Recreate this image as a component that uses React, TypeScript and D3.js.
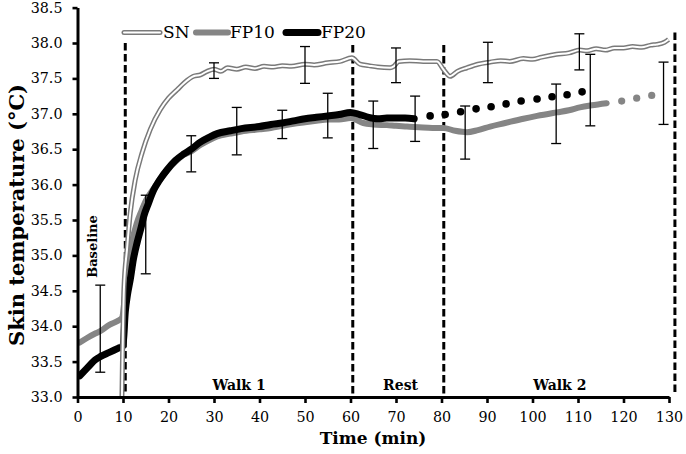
import { useEffect, useRef } from "react";
import * as d3 from "d3";

// time (min) and skin temperature (°C)
const snTime = [9.7, 10.2, 10.9, 11.6, 12.7, 14.2, 16.0, 18.2, 20, 21.9, 23.5, 25.5, 27, 28.5, 30, 31.5, 33, 35, 37, 39, 41, 43, 45, 47, 50, 52, 55, 57.7, 60.3, 62.1, 64, 66, 68.7, 69.5, 70.6, 73, 76, 79, 80.5, 81.9, 83.5, 85.6, 88, 90.7, 93, 95, 98, 100, 102, 105.3, 108, 110.4, 112, 114, 116, 118, 120, 122, 124, 126, 127.3, 129, 129.9];
const snTemp = [32.7, 34.52, 35.1, 35.6, 36.07, 36.45, 36.78, 37.06, 37.22, 37.34, 37.44, 37.53, 37.55, 37.6, 37.63, 37.6, 37.65, 37.63, 37.66, 37.64, 37.67, 37.66, 37.68, 37.67, 37.7, 37.69, 37.72, 37.74, 37.79, 37.7, 37.68, 37.66, 37.65, 37.67, 37.74, 37.75, 37.74, 37.74, 37.62, 37.53, 37.6, 37.65, 37.7, 37.73, 37.75, 37.74, 37.78, 37.77, 37.8, 37.84, 37.86, 37.9, 37.89, 37.92, 37.9, 37.93, 37.93, 37.95, 37.94, 37.97, 37.98, 38.01, 38.05];

const fp10Time = [0.5, 2, 4, 5, 7, 9, 9.8, 10.3, 11, 12, 13, 14, 15, 16.8, 18, 19.7, 21.5, 23.3, 25, 27, 29, 30.7, 33.6, 36, 40, 42.5, 45, 47.5, 50, 52.5, 55, 57.5, 60, 62.8, 65, 68, 70, 72.4, 75, 78, 80.4, 83, 85.6, 88, 90.7, 94, 98, 101, 105.3, 108, 110.4, 113, 116.3];
const fp10Temp = [33.77, 33.83, 33.9, 33.93, 34.02, 34.08, 34.12, 34.35, 34.8, 35.2, 35.45, 35.62, 35.77, 35.95, 36.06, 36.2, 36.32, 36.42, 36.47, 36.56, 36.63, 36.68, 36.72, 36.75, 36.78, 36.8, 36.83, 36.86, 36.88, 36.9, 36.92, 36.92, 36.94, 36.87, 36.85, 36.84, 36.83, 36.82, 36.81, 36.8, 36.8, 36.76, 36.74, 36.77, 36.82, 36.87, 36.93, 36.97, 37.02, 37.05, 37.09, 37.12, 37.15];
const fp10DotTime = [119.6, 122.9, 126.2];
const fp10DotTemp = [37.18, 37.22, 37.26];

const fp20Time = [0.5, 2, 4, 5, 7, 9, 10, 10.5, 11, 11.6, 12.3, 13.1, 14, 14.6, 15.5, 16.8, 18, 19.7, 21.5, 23.3, 25, 27, 29, 30.7, 33.6, 36, 40, 42.5, 45, 47.5, 50, 52.5, 55, 57.5, 60, 62, 64, 66, 68, 70, 72, 74];
const fp20Temp = [33.3, 33.4, 33.53, 33.57, 33.63, 33.69, 33.72, 34.2, 34.45, 34.66, 34.95, 35.18, 35.4, 35.56, 35.72, 35.93, 36.06, 36.21, 36.34, 36.43, 36.5, 36.6, 36.67, 36.72, 36.76, 36.79, 36.82, 36.85, 36.87, 36.9, 36.93, 36.95, 36.97, 36.99, 37.02, 36.99, 36.95, 36.93, 36.94, 36.94, 36.94, 36.93];
const fp20DotTime = [77.5, 80.8, 84.2, 87.6, 90.9, 94.2, 97.5, 101.0, 104.3, 107.6, 110.9];
const fp20DotTemp = [36.97, 36.99, 37.03, 37.07, 37.1, 37.14, 37.18, 37.21, 37.24, 37.27, 37.31];

// error bars
const errTime = [5, 15, 25, 30, 35, 45, 50, 55, 65, 70, 74.2, 85.2, 90.2, 105.2, 110.3, 112.7, 128.8];
const errLow = [33.35, 34.74, 36.18, 37.5, 36.42, 36.65, 37.43, 36.66, 36.51, 37.44, 36.61, 36.36, 37.44, 36.58, 37.62, 36.83, 36.85];
const errHigh = [34.58, 35.85, 36.69, 37.72, 37.09, 37.05, 37.95, 37.29, 37.18, 37.93, 37.25, 37.11, 38.01, 37.42, 38.13, 37.84, 37.73];

// phase markers
const phaseLines = [10.5, 60.5, 80.5, 131.3];
const phaseTops = [38.0, 37.97, 37.97, 38.15];
const phaseLabels = ["Walk 1", "Rest", "Walk 2"];
const phaseLabelTime = [35.5, 71, 106];

const xTicks = d3.range(0, 131, 10);
const yTicks = d3.range(33, 38.51, 0.5);

const width = 686;
const height = 454;
const margin = { top: 7.6, right: 17, bottom: 57, left: 77.5 };
const serif = "'DejaVu Serif', serif";

export default function App() {
  const ref = useRef<SVGSVGElement | null>(null);

  useEffect(() => {
    if (!ref.current) return;
    const svg = d3.select(ref.current);
    svg.selectAll("*").remove();

    const x = d3.scaleLinear().domain([0, 130]).range([margin.left, width - margin.right]);
    const y = d3.scaleLinear().domain([33, 38.5]).range([height - margin.bottom, margin.top]);

    svg.append("defs").append("clipPath").attr("id", "plot")
      .append("rect")
      .attr("x", margin.left).attr("y", 0)
      .attr("width", width).attr("height", y(33));

    const line = d3.line<[number, number]>()
      .x((d) => x(d[0]))
      .y((d) => y(d[1]))
      .curve(d3.curveMonotoneX);

    const zip = (a: number[], b: number[]) => a.map((t, i) => [t, b[i]] as [number, number]);

    // phase dashed lines
    svg.append("g")
      .selectAll("line")
      .data(phaseLines)
      .join("line")
      .attr("x1", (d) => x(d)).attr("x2", (d) => x(d))
      .attr("y1", (_, i) => y(phaseTops[i]))
      .attr("y2", y(33) - 3)
      .attr("stroke", "black")
      .attr("stroke-width", 3)
      .attr("stroke-dasharray", "7.5,3.5");

    const g = svg.append("g").attr("clip-path", "url(#plot)");

    // FP10
    g.append("path")
      .attr("d", line(zip(fp10Time, fp10Temp)))
      .attr("fill", "none").attr("stroke", "#858585")
      .attr("stroke-width", 6).attr("stroke-linecap", "round").attr("stroke-linejoin", "round");
    g.append("g").selectAll("circle")
      .data(zip(fp10DotTime, fp10DotTemp))
      .join("circle")
      .attr("cx", (d) => x(d[0])).attr("cy", (d) => y(d[1]))
      .attr("r", 3.6).attr("fill", "#858585");

    // FP20
    g.append("path")
      .attr("d", line(zip(fp20Time, fp20Temp)))
      .attr("fill", "none").attr("stroke", "black")
      .attr("stroke-width", 7).attr("stroke-linecap", "round").attr("stroke-linejoin", "round");
    g.append("g").selectAll("circle")
      .data(zip(fp20DotTime, fp20DotTemp))
      .join("circle")
      .attr("cx", (d) => x(d[0])).attr("cy", (d) => y(d[1]))
      .attr("r", 3.8).attr("fill", "black");

    // SN double line
    const snPath = line(zip(snTime, snTemp));
    g.append("path").attr("d", snPath)
      .attr("fill", "none").attr("stroke", "#7a7a7a").attr("stroke-width", 5)
      .attr("stroke-linejoin", "round");
    g.append("path").attr("d", snPath)
      .attr("fill", "none").attr("stroke", "white").attr("stroke-width", 2)
      .attr("stroke-linejoin", "round");

    // error bars
    const eb = svg.append("g").attr("stroke", "black").attr("stroke-width", 1.3);
    errTime.forEach((t, i) => {
      const cx = x(t);
      eb.append("line").attr("x1", cx).attr("x2", cx).attr("y1", y(errLow[i])).attr("y2", y(errHigh[i]));
      eb.append("line").attr("x1", cx - 5).attr("x2", cx + 5).attr("y1", y(errLow[i])).attr("y2", y(errLow[i]));
      eb.append("line").attr("x1", cx - 5).attr("x2", cx + 5).attr("y1", y(errHigh[i])).attr("y2", y(errHigh[i]));
    });

    // axes
    const xAxis = svg.append("g")
      .attr("transform", `translate(0,${y(33)})`)
      .call(d3.axisBottom(x).tickValues(xTicks).tickSize(6).tickPadding(9).tickSizeOuter(0));
    const yAxis = svg.append("g")
      .attr("transform", `translate(${margin.left},0)`)
      .call(d3.axisLeft(y).tickValues(yTicks).tickFormat(d3.format(".1f")).tickSize(5).tickPadding(10).tickSizeOuter(0));
    [xAxis, yAxis].forEach((a) => {
      a.select(".domain").attr("stroke-width", 3);
      a.selectAll(".tick line").attr("stroke-width", 2.6);
      a.selectAll("text").attr("font-family", serif).attr("font-size", 14.3).attr("fill", "black");
    });

    // axis titles
    svg.append("text")
      .attr("x", 373).attr("y", 444)
      .attr("text-anchor", "middle")
      .attr("font-family", serif).attr("font-weight", "bold").attr("font-size", 17)
      .text("Time (min)");
    svg.append("text")
      .attr("transform", `translate(24,215) rotate(-90)`)
      .attr("text-anchor", "middle")
      .attr("font-family", serif).attr("font-weight", "bold").attr("font-size", 21)
      .text("Skin temperature (°C)");

    // phase labels
    svg.append("g")
      .selectAll("text")
      .data(phaseLabels)
      .join("text")
      .attr("x", (_, i) => x(phaseLabelTime[i]))
      .attr("y", 390)
      .attr("text-anchor", "middle")
      .attr("font-family", serif).attr("font-weight", "bold").attr("font-size", 14)
      .text((d) => d);
    svg.append("text")
      .attr("transform", `translate(97,246.5) rotate(-90)`)
      .attr("text-anchor", "middle")
      .attr("font-family", serif).attr("font-weight", "bold").attr("font-size", 13)
      .text("Baseline");

    // legend
    const ly = y(38.15);
    const leg = svg.append("g").attr("font-family", serif).attr("font-size", 17);
    leg.append("line").attr("x1", 124).attr("x2", 160).attr("y1", ly).attr("y2", ly)
      .attr("stroke", "#7a7a7a").attr("stroke-width", 5).attr("stroke-linecap", "round");
    leg.append("line").attr("x1", 124).attr("x2", 160).attr("y1", ly).attr("y2", ly)
      .attr("stroke", "white").attr("stroke-width", 2).attr("stroke-linecap", "round");
    leg.append("text").attr("x", 163).attr("y", ly + 6).text("SN");
    leg.append("line").attr("x1", 196).attr("x2", 228).attr("y1", ly).attr("y2", ly)
      .attr("stroke", "#858585").attr("stroke-width", 6).attr("stroke-linecap", "round");
    leg.append("text").attr("x", 230).attr("y", ly + 6).text("FP10");
    leg.append("line").attr("x1", 286).attr("x2", 318).attr("y1", ly).attr("y2", ly)
      .attr("stroke", "black").attr("stroke-width", 7).attr("stroke-linecap", "round");
    leg.append("text").attr("x", 321).attr("y", ly + 6).text("FP20");
  }, []);

  return (
    <div style={{ position: "absolute", left: 0, top: 0 }}>
      <svg ref={ref} width={width} height={height} style={{ display: "block", background: "white" }} />
    </div>
  );
}
